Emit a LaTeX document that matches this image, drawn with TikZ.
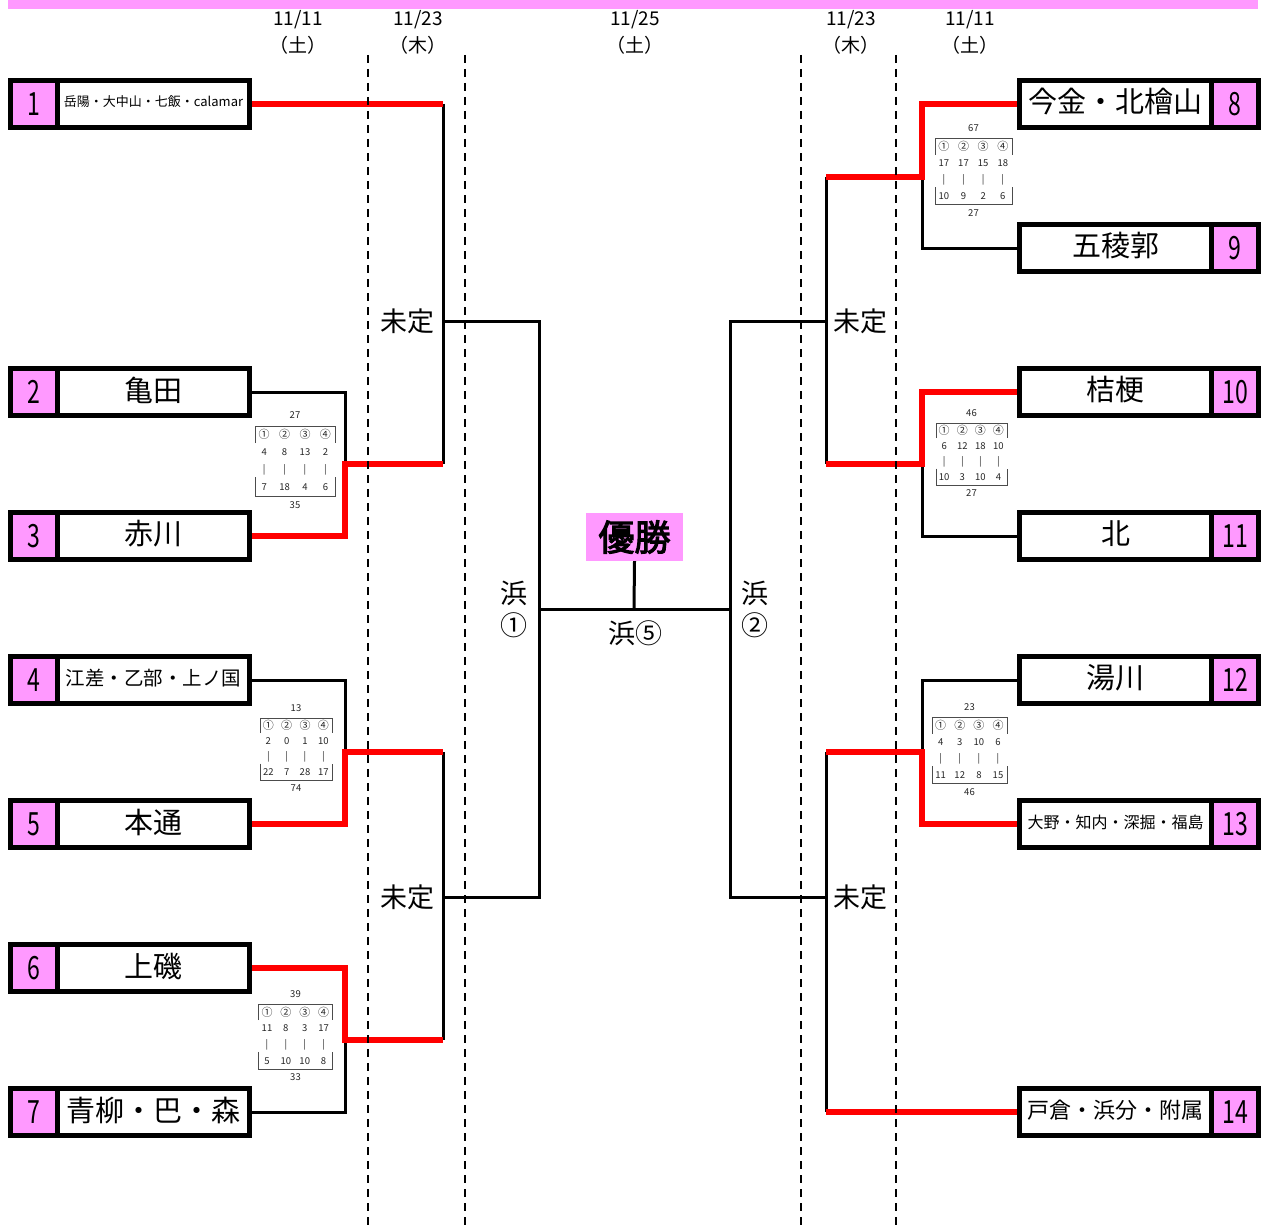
\documentclass[tikz,border=0pt]{standalone}
\usepackage{fontspec}
\setmainfont{Noto Sans CJK JP}
\newfontfamily\jpbold[FakeBold=3]{Noto Sans CJK JP}
\definecolor{pinkc}{RGB}{255,153,255}
\definecolor{winred}{RGB}{255,0,0}
\tikzset{
  conn/.style={line width=3pt, black},
  win/.style={line width=6.5pt, winred},
  guide/.style={line width=1.5pt, dash pattern=on 8pt off 6pt},
  teamframe/.style={draw=black, line width=5pt, fill=white, minimum width=239pt, minimum height=47pt, inner sep=0pt},
  numcell/.style={fill=pinkc, minimum width=42pt, minimum height=42pt, inner sep=0pt},
  sc/.style={font=\fontsize{9.5}{9.5}\selectfont, inner sep=0pt, text=black!85},
  scc/.style={font=\fontsize{11}{11}\selectfont, inner sep=0pt, text=black!85},
  scl/.style={line width=0.8pt, black!70},
  datelbl/.style={font=\fontsize{19}{19}\selectfont, inner sep=0pt},
  roundlbl/.style={font=\fontsize{27}{27}\selectfont, inner sep=0pt},
  namelbl/.style={inner sep=0pt}
}
\newcommand{\numtxt}[1]{\scalebox{0.72}[1]{\fontsize{32}{32}\selectfont #1}}
\newcommand{\bigname}{\fontsize{29}{29}\selectfont}
\newcommand{\lteam}[4]{%
  \node[teamframe] (T#1) at (130,#2) {};
  \fill[black] (55,#2-21) rectangle (60,#2+21);
  \node[numcell] (N#1) at (34,#2) {\numtxt{#3}};
  \node[namelbl] (W#1) at (153.5,#2-2) {#4};
}
\newcommand{\rteam}[4]{%
  \node[teamframe] (T#1) at (1139,#2) {};
  \fill[black] (1209,#2-21) rectangle (1214,#2+21);
  \node[numcell] (N#1) at (1235,#2) {\numtxt{#3}};
  \node[namelbl] (W#1) at (1115.5,#2-2) {#4};
}
\newcommand{\scorecard}[8]{%
  \node[sc] (#1tot) at (#2,#3) {#6};
  \draw[scl] (#2-#5,#3+1.6*#4) -- (#2-#5,#3+0.65*#4) -- (#2+#5,#3+0.65*#4) -- (#2+#5,#3+1.6*#4);
  \draw[scl] (#2-#5,#3+3.55*#4) -- (#2-#5,#3+4.6*#4) -- (#2+#5,#3+4.6*#4) -- (#2+#5,#3+3.55*#4);
  \foreach \cc [count=\i] in {①,②,③,④} {\node[scc] (#1c\i) at ({#2+(0.51*\i-1.28)*#5},{#3+1.1*#4}) {\cc};}
  \foreach \va/\vb [count=\i] in {#7} {
    \node[sc] (#1u\i) at ({#2+(0.51*\i-1.28)*#5},{#3+2.1*#4}) {\va};
    \node[sc] (#1m\i) at ({#2+(0.51*\i-1.28)*#5},{#3+3.1*#4}) {|};
    \node[sc] (#1d\i) at ({#2+(0.51*\i-1.28)*#5},{#3+4.1*#4}) {\vb};
  }
  \node[sc] (#1bot) at (#2,{#3+5.1*#4}) {#8};
}
\begin{document}
\begin{tikzpicture}[x=1pt,y=-1pt]
\useasboundingbox[fill=white] (0,0) rectangle (1263,1228);
\fill[pinkc] (8,0) rectangle (1258,9);
% dates
\node[datelbl] (d1a) at (298,20) {11/11}; \node[datelbl] (d1b) at (298,45) {（土）};
\node[datelbl] (d2a) at (418,20) {11/23}; \node[datelbl] (d2b) at (418,45) {（木）};
\node[datelbl] (d3a) at (635,20) {11/25}; \node[datelbl] (d3b) at (635,45) {（土）};
\node[datelbl] (d4a) at (851,20) {11/23}; \node[datelbl] (d4b) at (851,45) {（木）};
\node[datelbl] (d5a) at (970,20) {11/11}; \node[datelbl] (d5b) at (970,45) {（土）};
% teams
\lteam{1}{104}{1}{\fontsize{13}{13}\selectfont 岳陽・大中山・七飯・calamar}
\lteam{2}{392}{2}{\bigname 亀田}
\lteam{3}{536}{3}{\bigname 赤川}
\lteam{4}{680}{4}{\fontsize{19.5}{19.5}\selectfont 江差・乙部・上ノ国}
\lteam{5}{824}{5}{\bigname 本通}
\lteam{6}{968}{6}{\bigname 上磯}
\lteam{7}{1112}{7}{\bigname 青柳・巴・森}
\rteam{8}{104}{8}{\bigname 今金・北檜山}
\rteam{9}{248}{9}{\bigname 五稜郭}
\rteam{10}{392}{10}{\bigname 桔梗}
\rteam{11}{536}{11}{\bigname 北}
\rteam{12}{680}{12}{\bigname 湯川}
\rteam{13}{824}{13}{\fontsize{16}{16}\selectfont 大野・知内・深掘・福島}
\rteam{14}{1112}{14}{\fontsize{22}{22}\selectfont 戸倉・浜分・附属}
% score cards
\scorecard{A}{295}{415}{17.6}{40}{27}{4/7,8/18,13/4,2/6}{35}
\scorecard{B}{296}{708}{15.7}{36}{13}{2/22,0/7,1/28,10/17}{74}
\scorecard{C}{295.5}{994}{16.3}{37}{39}{11/5,8/10,3/10,17/8}{33}
\scorecard{D}{973.5}{128}{16.7}{38.5}{67}{17/10,17/9,15/2,18/6}{27}
\scorecard{E}{971.5}{413}{15.7}{35.5}{46}{6/10,12/3,18/10,10/4}{27}
\scorecard{F}{969.5}{707}{16.7}{37.5}{23}{4/11,3/12,10/8,6/15}{46}
% junction coordinates
\coordinate (L1) at (443,104);
\coordinate (L23m) at (345,464); \coordinate (L23) at (443,464);
\coordinate (L45m) at (345,752); \coordinate (L45) at (443,752);
\coordinate (L67m) at (345,1040); \coordinate (L67) at (443,1040);
\coordinate (LS1) at (443,321); \coordinate (LS2) at (443,897);
\coordinate (LF1) at (539,321); \coordinate (LF2) at (539,897); \coordinate (LF) at (539,609);
\coordinate (R89m) at (922,177); \coordinate (R89) at (826,177);
\coordinate (R1011m) at (922,464); \coordinate (R1011) at (826,464);
\coordinate (R1213m) at (922,752); \coordinate (R1213) at (826,752);
\coordinate (R14) at (826,1112);
\coordinate (RS1) at (826,321); \coordinate (RS2) at (826,897);
\coordinate (RF1) at (730,321); \coordinate (RF2) at (730,897); \coordinate (RF) at (730,609);
\coordinate (champ) at (634,609);
% black connectors
\draw[conn] (L1) -- (L23);
\draw[conn] (T2.east) -| (L23m);
\draw[conn] (T4.east) -| (L45m);
\draw[conn] (T7.east) -| (L67m);
\draw[conn] (L45) -- (L67);
\draw[conn] (LS1) -- (LF1) -- (LF2) -- (LS2);
\draw[conn] (LF) -- (RF);
\draw[conn] (RS1) -- (RF1) -- (RF2) -- (RS2);
\draw[conn] (R89) -- (R1011);
\draw[conn] (R1213) -- (R14);
\draw[conn] (T9.west) -| (R89m);
\draw[conn] (T11.west) -| (R1011m);
\draw[conn] (T12.west) -| (R1213m);
% winners
\draw[win] (T1.east) -- (L1);
\draw[win] (T3.east) -| (L23m) -- (L23);
\draw[win] (T5.east) -| (L45m) -- (L45);
\draw[win] (T6.east) -| (L67m) -- (L67);
\draw[win] (T8.west) -| (R89m) -- (R89);
\draw[win] (T10.west) -| (R1011m) -- (R1011);
\draw[win] (T13.west) -| (R1213m) -- (R1213);
\draw[win] (T14.west) -- (R14);
% centre
\node[fill=pinkc, minimum width=97pt, minimum height=48pt, inner sep=0pt, font=\jpbold\fontsize{36}{36}\selectfont] (Y) at (634.5,537) {優勝};
\draw[conn] (Y.south) -- (champ);
\node[roundlbl] (U1) at (407,321) {未定};
\node[roundlbl] (U2) at (407,897) {未定};
\node[roundlbl] (U3) at (860,321) {未定};
\node[roundlbl] (U4) at (860,897) {未定};
\node[roundlbl] (H1) at (514,593) {浜};
\node[roundlbl] (H1n) at (514,625) {①};
\node[roundlbl] (H2) at (755,593) {浜};
\node[roundlbl] (H2n) at (755,625) {②};
\node[roundlbl] (H5) at (635,633) {浜⑤};
% guide lines
\draw[guide] (368,55) -- (368,1228);
\draw[guide] (465,55) -- (465,1228);
\draw[guide] (801,55) -- (801,1228);
\draw[guide] (896,55) -- (896,1228);
\end{tikzpicture}
\end{document}
